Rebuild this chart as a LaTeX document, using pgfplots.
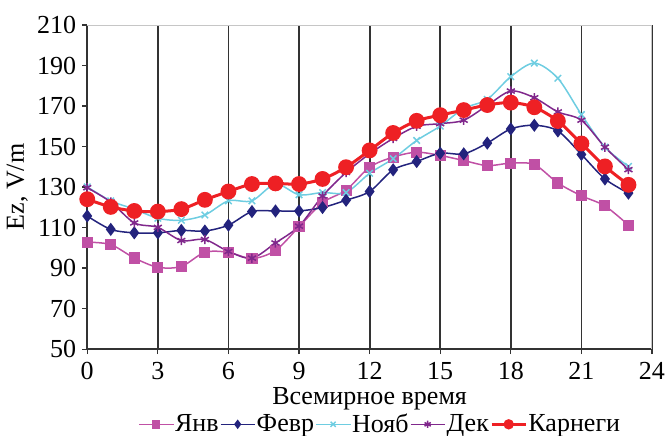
\documentclass[border=0pt]{standalone}
\usepackage{fontspec}
\setmainfont{Liberation Serif}
\usepackage{pgfplots}
\pgfplotsset{compat=1.18}
\definecolor{cJan}{RGB}{192,80,165}
\definecolor{cFeb}{RGB}{35,35,125}
\definecolor{cNov}{RGB}{110,205,225}
\definecolor{cDec}{RGB}{128,40,140}
\definecolor{cCar}{RGB}{238,32,36}
\begin{document}
\begin{tikzpicture}
\begin{axis}[
  name=ax,
  width=282.3pt, height=162pt, scale only axis,
  xmin=0, xmax=24, ymin=50, ymax=210,
  xtick={0,3,...,24}, ytick={50,70,...,210},
  axis x line*=bottom, axis y line*=left,
  axis line style={black!80, line width=0.75pt},
  tick style={black!80, line width=0.6pt},
  tick align=outside, major tick length=2.5pt,
  xmajorgrids, major grid style={black!80, line width=0.9pt},
  /pgf/number format/assume math mode=true,
  ticklabel style={font=\fontsize{13}{15}\selectfont},
  xticklabel style={anchor=base, inner sep=0.5pt, yshift=-12.8pt},
  yticklabel style={xshift=0.5pt},
  label style={font=\fontsize{13}{15}\selectfont},
  xlabel={Всемирное время},
  xlabel style={at={(axis description cs:0.5,0)}, anchor=base, inner sep=0.5pt, yshift=-27.6pt},
  ylabel={Ez, V/m},
  ylabel style={at={(axis description cs:0,0.5)}, anchor=center, yshift=35pt},
  legend columns=5,
  legend style={at={(0.518,-0.232)}, anchor=center, draw=none, fill=none,
    font=\fontsize{13}{15}\selectfont, inner sep=0pt,
    nodes={inner xsep=0.6pt},
    /tikz/every even column/.append style={column sep=0pt}},
  legend image post style={mark size=1.8pt},
]
\addplot[cJan, line width=0.75pt, smooth, mark=square*, mark size=2.4pt] coordinates {
(0,102.8)(1,101.6)(2,95)(3,90.4)(4,90.8)(5,97.8)(6,97.8)(7,94.7)(8,98.7)(9,110.4)(10,122.3)(11,128.5)(12,139.8)(13,144.8)(14,147.2)(15,145.6)(16,143.1)(17,140.6)(18,141.8)(19,141.1)(20,132)(21,125.7)(22,120.7)(23,111.2)};
\addlegendentry{Янв}
\addplot[cFeb, line width=0.75pt, smooth, mark=diamond*, mark size=2.7pt] coordinates {
(0,115.7)(1,109.1)(2,107.4)(3,107.4)(4,108.6)(5,108.3)(6,111.2)(7,117.9)(8,118.2)(9,118.2)(10,119.9)(11,123.5)(12,127.8)(13,138.5)(14,142.6)(15,146.7)(16,146.4)(17,151.7)(18,158.7)(19,160.5)(20,157.7)(21,146.1)(22,134)(23,127)};
\addlegendentry{Февр}
\addplot[cNov, line width=0.75pt, smooth, mark=x, mark size=2.3pt] coordinates {
(0,130.1)(1,123.2)(2,119.1)(3,114.6)(4,113.6)(5,116.2)(6,123.2)(7,123.2)(8,131.5)(9,126.2)(10,127.3)(11,127.3)(12,136.8)(13,144)(14,153)(15,160.1)(16,168.8)(17,173.3)(18,184.5)(19,191.2)(20,183.7)(21,165.8)(22,149.7)(23,140.2)};
\addlegendentry{Нояб}
\addplot[cDec, line width=0.75pt, smooth, mark=asterisk, mark size=2.3pt] coordinates {
(0,129.7)(1,122.6)(2,112.3)(3,110.1)(4,103.6)(5,104.1)(6,98.2)(7,94.9)(8,102.4)(9,110.7)(10,125.6)(11,137.2)(12,146.4)(13,154)(14,160)(15,161.3)(16,163)(17,170.3)(18,177.4)(19,174.1)(20,167.1)(21,163)(22,149.7)(23,138.6)};
\addlegendentry{Дек}
\addplot[cCar, line width=1.5pt, smooth, mark=*, mark size=3.2pt] coordinates {
(0,124)(1,120.2)(2,118.2)(3,117.9)(4,119.1)(5,123.7)(6,127.8)(7,131.5)(8,131.8)(9,131.5)(10,134)(11,139.8)(12,148.1)(13,156.7)(14,162.7)(15,165.5)(16,168)(17,170.5)(18,171.7)(19,169.4)(20,162.6)(21,151.5)(22,140.2)(23,131.1)};
\addlegendentry{Карнеги}
\draw[gray!45, line width=0.75pt] (rel axis cs:0,1) -- (rel axis cs:1,1) -- (rel axis cs:1,0);
\end{axis}
\pgfresetboundingbox
\path[use as bounding box] ([xshift=-43.6pt,yshift=-43pt]ax.south west) rectangle ([xshift=8.5pt,yshift=12.5pt]ax.north east);
\end{tikzpicture}
\end{document}
